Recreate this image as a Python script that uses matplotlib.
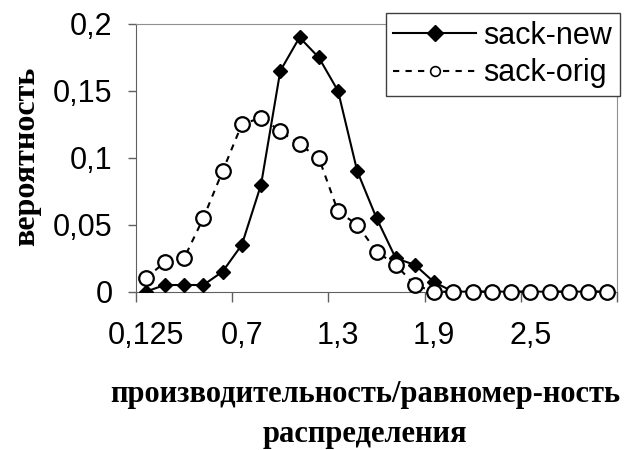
import matplotlib
matplotlib.use('Agg')
import matplotlib.pyplot as plt
import numpy as np

# данные (25 категорий, подписана каждая пятая)
x_labels = ['0,125', '0,7', '1,3', '1,9', '2,5']
label_step = 5
sack_new = [0, 0.005, 0.005, 0.005, 0.015, 0.035, 0.08, 0.165, 0.19, 0.175,
            0.15, 0.09, 0.055, 0.025, 0.02, 0.007, 0, 0, 0, 0,
            0, 0, 0, 0, 0]
sack_orig = [0.01, 0.022, 0.025, 0.055, 0.09, 0.125, 0.13, 0.12, 0.11, 0.1,
             0.06, 0.05, 0.03, 0.02, 0.005, 0, 0, 0, 0, 0,
             0, 0, 0, 0, 0]
y_ticks = [0, 0.05, 0.1, 0.15, 0.2]
y_labels = ['0', '0,05', '0,1', '0,15', '0,2']

plt.rcParams['font.family'] = ['Liberation Sans', 'DejaVu Sans']

fig = plt.figure(figsize=(6.44, 4.5), dpi=100)
ax = fig.add_axes([136/644, 1-291.7/450, (617-136)/644, (291.7-24)/450])

x = np.arange(len(sack_new))
ax.plot(x, sack_new, color='black', lw=1.5, marker='D', ms=7,
        mfc='black', mec='black', label='sack-new', zorder=3)
ax.plot(x, sack_orig, color='black', lw=1.5, ls=(0, (3, 3)), marker='o', ms=10.5,
        mfc='white', mec='black', mew=1.6, label='sack-orig', zorder=4, clip_on=False)

ax.set_xlim(-0.5, len(x) - 0.5)
ax.set_ylim(0, 0.2)

# засечки на границах категорий, подписи по центру категорий
ax.set_xticks(np.arange(-0.5, len(x), label_step))
ax.set_xticklabels([])
ax.set_xticks(np.arange(0, len(x), label_step), minor=True)
ax.set_xticklabels(x_labels, minor=True, fontsize=22)
ax.tick_params(axis='x', which='major', direction='out', length=7, width=1, color='#606060')
ax.tick_params(axis='x', which='minor', length=0, pad=21)

ax.set_yticks(y_ticks)
ax.set_yticklabels(y_labels, fontsize=22)
ax.tick_params(axis='y', direction='out', length=6, width=1, color='#606060', pad=11)

for s in ['left', 'bottom']:
    ax.spines[s].set_color('#606060')
for s in ['top', 'right']:
    ax.spines[s].set_color('#909090')

leg = ax.legend(loc='upper right', bbox_to_anchor=(620/644, 1-13/450),
                bbox_transform=fig.transFigure, fontsize=22, frameon=True,
                fancybox=False, edgecolor='#404040', framealpha=1,
                handlelength=2.7, borderpad=0.25, labelspacing=0.25,
                handletextpad=0.25, borderaxespad=0)
leg.get_frame().set_linewidth(1)
leg.set_zorder(10)
leg.legend_handles[0].set_markersize(8)
leg.legend_handles[1].set_markersize(7)
leg.legend_handles[1].set_markeredgewidth(1.2)

fig.text(27/644, 1-156/450, 'вероятность', rotation=90, ha='center', va='center',
         family='Liberation Serif', weight='bold', fontsize=23)
fig.text(365/644, 1-402/450, 'производительность/равномер-ность', ha='center',
         va='baseline', family='Liberation Serif', weight='bold', fontsize=22)
fig.text(365/644, 1-442/450, 'распределения', ha='center',
         va='baseline', family='Liberation Serif', weight='bold', fontsize=22)

fig.savefig('out.png', dpi=100)
